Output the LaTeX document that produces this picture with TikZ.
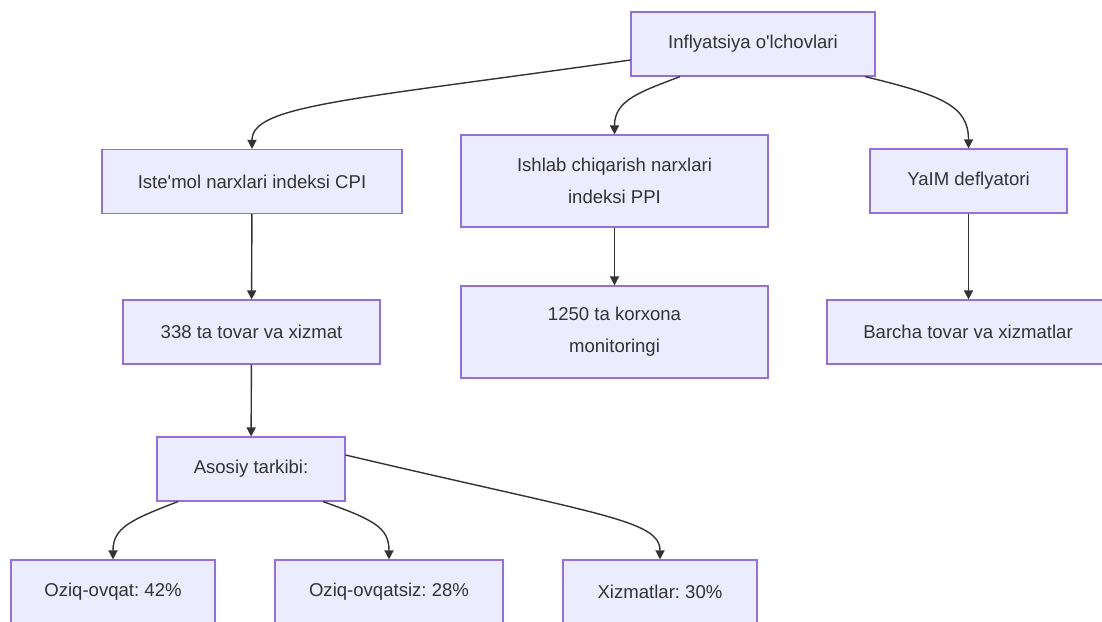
\documentclass[tikz,border=0pt]{standalone}
\usepackage{fontspec}
\setmainfont{Liberation Sans}[Ligatures=TeXOff]
\usepackage{xcolor}
\usetikzlibrary{positioning,arrows.meta}
\definecolor{boxfill}{HTML}{ECECFF}
\definecolor{boxline}{HTML}{9370DB}
\definecolor{inkgray}{HTML}{333333}
\frenchspacing

\begin{document}
\begin{tikzpicture}[
  x=0.025cm, y=-0.025cm,
  measure/.style={rectangle, draw=boxline, fill=boxfill, line width=0.8pt, text=inkgray, align=center, font=\fontsize{13.2pt}{22.5pt}\selectfont, minimum height=1.6cm, inner sep=0pt},
  link/.style={-{Triangle[length=6.5pt,width=6.5pt]}, draw=inkgray, line width=1pt}
]
\useasboundingbox (0,0) rectangle (1102,621);
\node[measure, minimum width=6.1cm] (root) at (753,44) {Inflyatsiya o'lchovlari};
\node[measure, minimum width=7.5cm] (cpi) at (252,181.5) {Iste'mol narxlari indeksi CPI};
\node[measure, minimum width=7.675cm, minimum height=2.3cm] (ppi) at (614.5,181) {Ishlab chiqarish narxlari\\indeksi PPI};
\node[measure, minimum width=4.925cm] (gdp) at (968.5,181) {YaIM deflyatori};
\node[measure, minimum width=6.425cm] (goods) at (251.5,332) {338 ta tovar va xizmat};
\node[measure, minimum width=7.675cm, minimum height=2.3cm] (firms) at (614.5,332) {1250 ta korxona\\monitoringi};
\node[measure, minimum width=7.05cm] (all) at (968,332) {Barcha tovar va xizmatlar};
\node[measure, minimum width=4.7cm] (parts) at (251,469) {Asosiy tarkibi:};
\node[measure, minimum width=5.1cm] (food) at (113,592) {Oziq-ovqat: 42\%};
\node[measure, minimum width=5.7cm] (nonfood) at (389,592) {Oziq-ovqatsiz: 28\%};
\node[measure, minimum width=4.85cm] (serv) at (660,592) {Xizmatlar: 30\%};

\draw[link] ([yshift=-0.4cm]root.west) .. controls (350,100) and (252,105) .. (cpi.north);
\draw[link] ([xshift=-1.825cm]root.south) .. controls (640,92) and (614.5,100) .. (ppi.north);
\draw[link] ([xshift=2.8cm]root.south) .. controls (940,95) and (968.5,105) .. (gdp.north);
\draw[link] (cpi) -- (goods);
\draw[link] (ppi) -- (firms);
\draw[link] (gdp) -- (all.north -| gdp.south);
\draw[link] (goods) -- (parts);
\draw[link] ([xshift=-1.825cm]parts.south) .. controls (130,520) and (113,528) .. (food.north);
\draw[link] ([xshift=1.8cm]parts.south) .. controls (375,520) and (389,528) .. (nonfood.north);
\draw[link] ([yshift=0.35cm]parts.east) .. controls (600,515) and (660,520) .. (serv.north);
\end{tikzpicture}
\end{document}
